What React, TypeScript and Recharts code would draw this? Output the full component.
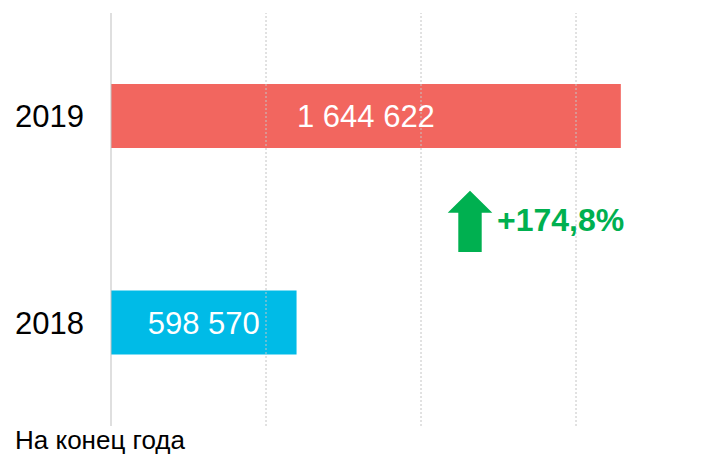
import React from 'react';
import { BarChart, Bar, XAxis, YAxis, Cell, LabelList, ReferenceLine } from 'recharts';

const years = ['2019', '2018'];
const values = [1644622, 598570];
const colors = ['#f2665f', '#00bbe7'];
const gridTicks = [500000, 1000000, 1500000];
const growthLabel = '+174,8%';
const footLabel = 'На конец года';

const data = years.map((y, i) => ({ year: y, value: values[i] }));

const FONT = '"Liberation Sans", Arial, sans-serif';

const fmt = (v: any) => String(v).replace(/\B(?=(\d{3})+(?!\d))/g, ' ');

export default function App() {
  return (
    <div style={{ position: 'relative', width: 714, height: 446, overflow: 'hidden', fontFamily: FONT }}>
      <BarChart
        width={723}
        height={446}
        data={data}
        layout="vertical"
        margin={{ top: 5, right: 0, bottom: 0, left: 0 }}
      >
        <XAxis
          type="number"
          domain={[0, 2000000]}
          tick={false}
          axisLine={false}
          tickLine={false}
          height={28}
        />
        <YAxis
          type="category"
          dataKey="year"
          width={103}
          tickLine={false}
          tickSize={0}
          tickMargin={27}
          axisLine={false}
          tick={{ fill: '#000', fontSize: 31, fontFamily: FONT }}
        />
        {gridTicks.map((t) => (
          <ReferenceLine key={t} x={t} stroke="#c4c4c4" strokeDasharray="2 2" />
        ))}
        <ReferenceLine x={0} stroke="#bfbfbf" strokeWidth={1} />
        <Bar dataKey="value" barSize={64} isAnimationActive={false}>
          {data.map((d, i) => (
            <Cell key={d.year} fill={colors[i]} />
          ))}
          <LabelList
            dataKey="value"
            position="center"
            formatter={fmt}
            fill="#ffffff"
            style={{ fontSize: 31, fontFamily: FONT, fill: '#ffffff' }}
          />
        </Bar>
      </BarChart>
      <svg
        width={714}
        height={446}
        style={{ position: 'absolute', left: 0, top: 0, pointerEvents: 'none' }}
      >
        <polygon
          points="439.7,204.7 462,182.7 484.3,204.7 473.7,204.7 473.7,244 450.3,244 450.3,204.7"
          fill="#00b050"
        />
        <text x={489} y={223} fill="#00b050" fontSize={32} fontWeight="bold" fontFamily={FONT}>
          {growthLabel}
        </text>
        <text x={7} y={441} fill="#000" fontSize={26} fontFamily={FONT}>
          {footLabel}
        </text>
      </svg>
    </div>
  );
}
